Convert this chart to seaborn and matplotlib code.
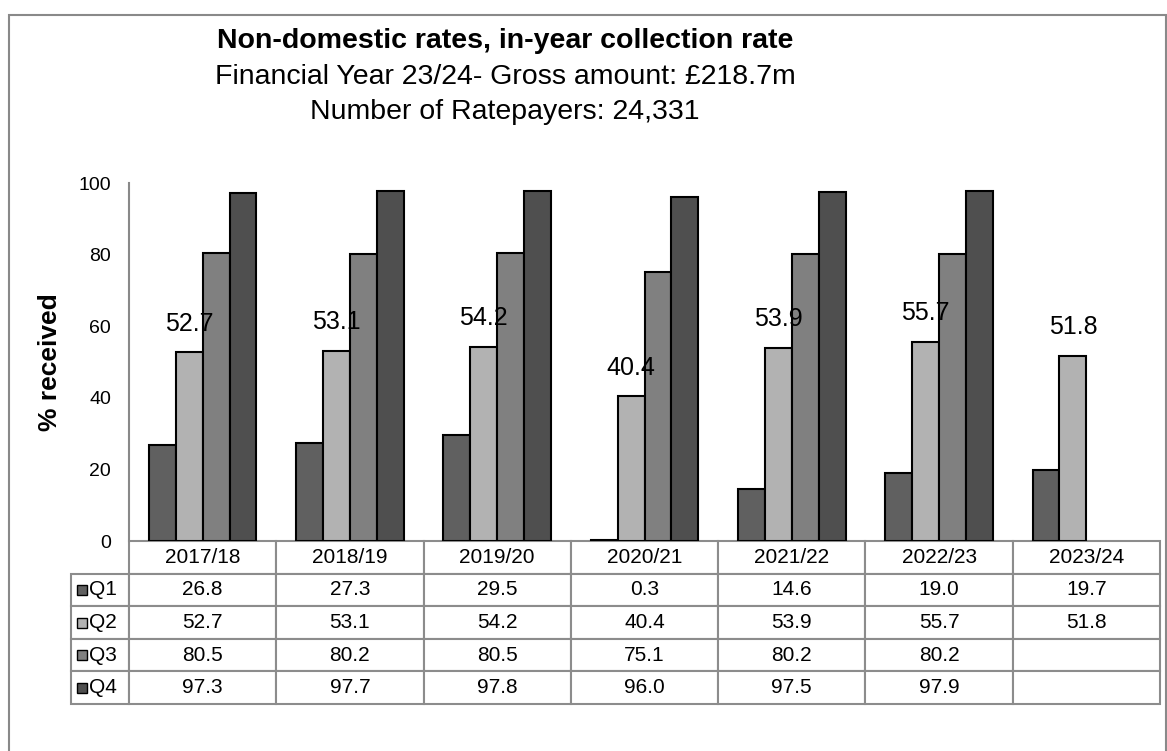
import numpy as np
import pandas as pd
import matplotlib.pyplot as plt
import seaborn as sns
from matplotlib.patches import Rectangle
from matplotlib.table import Table

# ----------------------- #
# Data
# ----------------------- #
years = ['2017/18', '2018/19', '2019/20', '2020/21', '2021/22', '2022/23', '2023/24']
quarters = ['Q1', 'Q2', 'Q3', 'Q4']
q1 = [26.8, 27.3, 29.5, 0.3, 14.6, 19.0, 19.7]
q2 = [52.7, 53.1, 54.2, 40.4, 53.9, 55.7, 51.8]
q3 = [80.5, 80.2, 80.5, 75.1, 80.2, 80.2, np.nan]
q4 = [97.3, 97.7, 97.8, 96.0, 97.5, 97.9, np.nan]
colours = ['#606060', '#b2b2b2', '#808080', '#4f4f4f']

series = [q1, q2, q3, q4]
df = pd.DataFrame({
    'Year': years * len(quarters),
    'Quarter': np.repeat(quarters, len(years)),
    'Value': q1 + q2 + q3 + q4,
})

# ----------------------- #
# Plot
# ----------------------- #
sns.set_style('white')
plt.rcParams['font.family'] = ['Liberation Sans', 'DejaVu Sans']
plt.rcParams['text.color'] = 'black'
plt.rcParams['axes.labelcolor'] = 'black'
plt.rcParams['ytick.color'] = 'black'

W, H = 1167, 751
fig = plt.figure(figsize=(W / 100, H / 100), dpi=100)
ax = fig.add_axes([129 / W, (H - 541) / H, 1031 / W, 358 / H])

sns.barplot(data=df, x='Year', y='Value', hue='Quarter', order=years,
            hue_order=quarters, palette=dict(zip(quarters, colours)),
            saturation=1, width=0.73, errorbar=None, edgecolor='black',
            linewidth=1.5, legend=False, ax=ax)

ax.set_ylim(0, 100)
ax.set_xlim(-0.5, len(years) - 0.5)
ax.set_yticks(range(0, 101, 20))
ax.set_xticks([])
ax.set_xlabel('')
ax.tick_params(axis='y', length=0, pad=13, labelsize=14)
ax.set_ylabel('% received', fontsize=19, fontweight='bold')
ax.yaxis.set_label_coords((62 - 129) / 1031, 0.5)
for side in ['top', 'right', 'bottom']:
    ax.spines[side].set_visible(False)
ax.spines['left'].set_color('#898989')
ax.spines['left'].set_linewidth(1.5)

# data labels on Q2 bars only
ax.bar_label(ax.containers[1], fmt='%.1f', padding=12, fontsize=18)

# ----------------------- #
# Data table under the chart
# ----------------------- #
tab_h = 163 / 358
lab_w = 58 / 1031
tb = Table(ax, bbox=[-lab_w, -tab_h, 1 + lab_w, tab_h])
col_w = 1 / len(years)
row_h = 1 / 5
for j, yr in enumerate(years):
    tb.add_cell(0, j + 1, col_w, row_h, text=yr, loc='center')
for i, vals in enumerate(series):
    tb.add_cell(i + 1, 0, lab_w, row_h, text='', loc='center')
    for j, v in enumerate(vals):
        txt = '' if np.isnan(v) else f'{v:.1f}'
        tb.add_cell(i + 1, j + 1, col_w, row_h, text=txt, loc='center')
tb.auto_set_font_size(False)
tb.set_fontsize(15)
for cell in tb.get_celld().values():
    cell.set_edgecolor('#8c8c8c')
    cell.set_linewidth(1.5)
    cell.get_text().set_color('black')
ax.add_table(tb)

# legend keys in the row-label column
for i, (q, c) in enumerate(zip(quarters, colours)):
    yc = -tab_h + tab_h * (1 - (i + 1.5) / 5)
    ax.add_patch(Rectangle(((77 - 129) / 1031, yc - 5 / 358), 10 / 1031, 10 / 358,
                           transform=ax.transAxes, clip_on=False,
                           facecolor=c, edgecolor='black', linewidth=1))
    ax.text((89 - 129) / 1031, yc, q, transform=ax.transAxes,
            ha='left', va='center', fontsize=15)

# ----------------------- #
# Titles and frame
# ----------------------- #
cx = 505 / W
fig.text(cx, 1 - 48 / H, 'Non-domestic rates, in-year collection rate',
         ha='center', va='baseline', fontsize=20.5, fontweight='bold')
fig.text(cx, 1 - 84 / H, 'Financial Year 23/24- Gross amount: £218.7m',
         ha='center', va='baseline', fontsize=20.5)
fig.text(cx, 1 - 119 / H, 'Number of Ratepayers: 24,331',
         ha='center', va='baseline', fontsize=20.5)

fig.add_artist(Rectangle((9 / W, -0.05), 1157 / W, (H - 15) / H + 0.05,
                         transform=fig.transFigure, fill=False,
                         edgecolor='#898989', linewidth=1.5))

fig.savefig('out.png', dpi=100)
